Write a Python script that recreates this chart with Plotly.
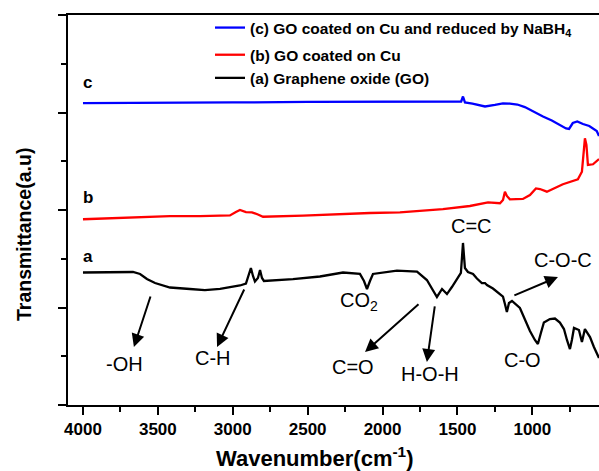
import plotly.graph_objects as go

# ---- data (wavenumber cm^-1, transmittance a.u.) ----
wn_a = [4000, 3820, 3666, 3619, 3573, 3519, 3419, 3286, 3186, 3085,
        2952, 2912, 2892, 2879, 2865, 2852, 2832, 2818, 2805, 2792,
        2598, 2418, 2264, 2151, 2124, 2104, 2084, 2064, 1904, 1770,
        1704, 1670, 1637, 1603, 1570, 1537, 1497, 1477, 1463, 1450,
        1430, 1396, 1370, 1337, 1316, 1303, 1263, 1236, 1196, 1183,
        1170, 1156, 1136, 1083, 1016, 983, 963, 943, 923, 883,
        849, 816, 789, 769, 749, 736, 722, 689, 669, 649,
        615, 589, 555]
t_a = [1.359, 1.361, 1.364, 1.344, 1.292, 1.251, 1.205, 1.190, 1.179, 1.190,
       1.226, 1.246, 1.333, 1.405, 1.323, 1.267, 1.303, 1.385, 1.303, 1.272,
       1.292, 1.318, 1.359, 1.344, 1.272, 1.190, 1.272, 1.344, 1.379, 1.369,
       1.282, 1.200, 1.108, 1.190, 1.138, 1.210, 1.303, 1.354, 1.662, 1.405,
       1.364, 1.344, 1.297, 1.251, 1.251, 1.231, 1.195, 1.159, 1.111, 1.036,
       0.954, 1.046, 1.067, 0.995, 0.759, 0.667, 0.626, 0.738, 0.846, 0.882,
       0.887, 0.846, 0.779, 0.667, 0.574, 0.667, 0.790, 0.769, 0.646, 0.779,
       0.697, 0.595, 0.482]

wn_b = [4000, 3820, 3640, 3419, 3219, 3019, 2979, 2952, 2912, 2872,
        2832, 2798, 2531, 2304, 2084, 1884, 1597, 1417, 1296, 1216,
        1196, 1183, 1170, 1150, 1063, 1016, 976, 949, 903, 796,
        696, 669, 656, 649, 639, 629, 595, 575, 555]
t_b = [1.905, 1.913, 1.925, 1.938, 1.938, 1.944, 1.979, 2.000, 1.979, 1.976,
       1.954, 1.931, 1.942, 1.959, 1.969, 1.976, 2.010, 2.041, 2.079, 2.069,
       2.103, 2.188, 2.144, 2.110, 2.113, 2.154, 2.221, 2.215, 2.188, 2.264,
       2.315, 2.393, 2.615, 2.735, 2.667, 2.462, 2.469, 2.492, 2.523]

wn_c = [4000, 3800, 3500, 3000, 2500, 2000, 1700, 1500, 1475, 1463,
        1450, 1400, 1316, 1250, 1196, 1150, 1100, 1050, 1000, 929,
        870, 816, 775, 755, 730, 700, 662, 620, 590, 570, 555]
t_c = [3.097, 3.097, 3.097, 3.103, 3.108, 3.113, 3.118, 3.118, 3.113, 3.164,
       3.103, 3.092, 3.062, 3.077, 3.094, 3.092, 3.082, 3.056, 3.015, 2.959,
       2.918, 2.872, 2.836, 2.831, 2.892, 2.908, 2.882, 2.862, 2.831, 2.810,
       2.759]

names = ["(c) GO coated on Cu and reduced by NaBH<sub>4</sub>",
         "(b) GO coated on Cu",
         "(a) Graphene oxide (GO)"]
colors = ["#0000ff", "#ff0000", "#000000"]

FONT = "Liberation Sans, Arial, sans-serif"

fig = go.Figure()
fig.add_trace(go.Scatter(x=wn_c, y=t_c, mode="lines", name=names[0],
                         line=dict(color=colors[0], width=2.3), legendgroup="g1"))
fig.add_trace(go.Scatter(x=wn_b, y=t_b, mode="lines", name=names[1],
                         line=dict(color=colors[1], width=2.3), legendgroup="g2"))
fig.add_trace(go.Scatter(x=wn_a, y=t_a, mode="lines", name=names[2],
                         line=dict(color=colors[2], width=2.3), legendgroup="g2"))

# curve letters
for txt, yy in [("c", 3.31), ("b", 2.13), ("a", 1.52)]:
    fig.add_annotation(x=3967, y=yy, text=f"<b>{txt}</b>", showarrow=False,
                       font=dict(family=FONT, size=17, color="black"))

# band labels
labels = [("-OH", 3720, 0.42), ("C-H", 3132, 0.482), ("CO<sub>2</sub>", 2155, 1.06),
          ("C=O", 2198, 0.39), ("H-O-H", 1684, 0.318), ("C=C", 1403, 1.836),
          ("C-O-C", 796, 1.487), ("C-O", 1069, 0.46)]
for txt, xx, yy in labels:
    fig.add_annotation(x=xx, y=yy, text=txt, showarrow=False,
                       font=dict(family=FONT, size=20, color="black"))

# arrows (tail -> head)
arrows = [(3546, 1.128, 3660, 0.595), (2919, 1.20, 3105, 0.595),
          (1750, 1.046, 2117, 0.544), (1650, 1.026, 1704, 0.441),
          (1130, 1.118, 829, 1.313)]
for ax_, ay_, x_, y_ in arrows:
    fig.add_annotation(x=x_, y=y_, ax=ax_, ay=ay_, axref="x", ayref="y",
                       xref="x", yref="y", text="", showarrow=True,
                       arrowhead=2, arrowsize=1.3, arrowwidth=2, arrowcolor="black",
                       standoff=0, startstandoff=0)

# axis titles
fig.add_annotation(xref="paper", yref="paper", x=(314 - 68) / 531, y=-52 / 390,
                   text="<b>Wavenumber(cm<sup>-1</sup>)</b>", showarrow=False,
                   font=dict(family=FONT, size=22, color="black"),
                   xanchor="center", yanchor="middle")
fig.add_annotation(xref="paper", yref="paper", x=-44 / 531, y=(405 - 235) / 390,
                   text="<b>Transmittance(a.u)</b>", showarrow=False, textangle=-90,
                   font=dict(family=FONT, size=19.5, color="black"),
                   xanchor="center", yanchor="middle")

fig.update_layout(
    width=599, height=471,
    margin=dict(l=68, r=0, t=15, b=66),
    paper_bgcolor="white", plot_bgcolor="white",
    font=dict(family=FONT, color="black"),
    showlegend=True,
    legend=dict(x=(210 - 68) / 531, y=1 + 4 / 390, xanchor="left", yanchor="top",
                bgcolor="rgba(0,0,0,0)", font=dict(family=FONT, size=15.5, color="black", weight="bold"),
                tracegroupgap=4, itemwidth=30),
    xaxis=dict(range=[4100, 555], showgrid=False, zeroline=False,
               showline=True, linecolor="black", linewidth=2, mirror=True,
               ticks="outside", ticklen=8, tickwidth=2, tickcolor="black",
               tick0=0, dtick=500,
               minor=dict(ticks="outside", ticklen=5, tickwidth=2, tickcolor="black", dtick=250, tick0=0),
               tickfont=dict(family=FONT, size=17, color="black", weight="bold")),
    yaxis=dict(range=[0, 4], showgrid=False, zeroline=False,
               showline=True, linecolor="black", linewidth=2, mirror=False,
               ticks="outside", ticklen=8, tickwidth=2, tickcolor="black",
               tick0=0, dtick=1, showticklabels=False,
               minor=dict(ticks="outside", ticklen=5, tickwidth=2, tickcolor="black", dtick=0.5, tick0=0)),
)

fig.write_html("out.html")
